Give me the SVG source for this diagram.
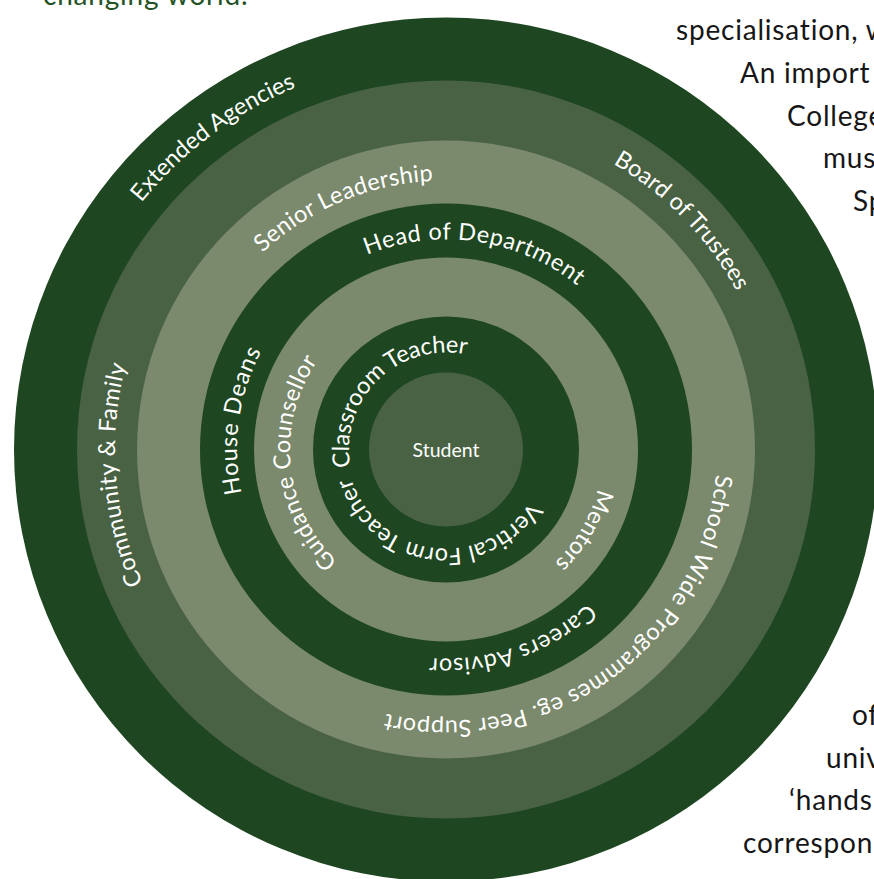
<svg xmlns="http://www.w3.org/2000/svg" width="874" height="879" viewBox="0 0 874 879">
<style>
.dark{fill:#1e4621}
.mid{fill:#4a6244}
.light{fill:#7b896d}
.lbl{font-family:Lato,"Open Sans","DejaVu Sans",sans-serif;font-size:23.5px;fill:#ffffff}
.para{font-family:Lato,"Open Sans","DejaVu Sans",sans-serif;font-size:28px;fill:#161616;letter-spacing:0.8px}
</style>
<defs>
<path id="pExt" d="M141.36 202.81 A392 392 0 0 1 466.52 58.04"/>
<path id="pSen" d="M262.54 252.77 A269 269 0 0 1 551.11 201.89"/>
<path id="pHead" d="M366.99 254.93 A210 210 0 0 1 634.75 357.44"/>
<path id="pClass" d="M350.56 466.84 A97 97 0 0 1 504.78 372.34"/>
<path id="pBoard" d="M613.00 163.71 A331 331 0 0 1 777 449.5"/>
<path id="pSchool" d="M715.84 474.53 A271 271 0 0 1 299.20 677.29"/>
<path id="pMent" d="M598.00 488.81 A157 157 0 0 1 499.70 597.03"/>
<path id="pVert" d="M530.14 501.67 A99 99 0 0 1 347.16 443.80"/>
<path id="pCar" d="M587.74 603.10 A209 209 0 0 1 341.5 630.5"/>
<path id="pHouse" d="M241.64 493.31 A209 209 0 0 1 311.66 289.40"/>
<path id="pGuid" d="M337.63 561.72 A156 156 0 0 1 368 314.40"/>
<path id="pComm" d="M143.15 583.08 A331 331 0 0 1 174.86 259.65"/>
</defs>
<rect width="874" height="879" fill="#ffffff"/>
<g id="rings">
<circle class="dark" cx="446" cy="449.5" r="432"/>
<circle class="mid" cx="446" cy="449.5" r="369"/>
<circle class="light" cx="446" cy="449.5" r="309"/>
<circle class="dark" cx="446" cy="449.5" r="246"/>
<circle class="light" cx="446" cy="449.5" r="192"/>
<circle class="dark" cx="446" cy="449.5" r="133"/>
</g>
<g id="student">
<circle class="mid" cx="446" cy="449.5" r="77"/>
<text x="446" y="456.5" text-anchor="middle" font-family="Lato,'Open Sans',sans-serif" font-size="19" fill="#ffffff" textLength="67" lengthAdjust="spacingAndGlyphs">Student</text>
</g>
<g id="extended-agencies"><text class="lbl"><textPath href="#pExt" textLength="195" lengthAdjust="spacing">Extended Agencies</textPath></text></g>
<g id="senior-leadership"><text class="lbl"><textPath href="#pSen" textLength="189" lengthAdjust="spacing">Senior Leadership</textPath></text></g>
<g id="head-of-department"><text class="lbl"><textPath href="#pHead" textLength="223" lengthAdjust="spacing">Head of Department</textPath></text></g>
<g id="classroom-teacher"><text class="lbl"><textPath href="#pClass" textLength="190" lengthAdjust="spacing">Classroom Teacher</textPath></text></g>
<g id="board-of-trustees"><text class="lbl"><textPath href="#pBoard" textLength="180" lengthAdjust="spacing">Board of Trustees</textPath></text></g>
<g id="school-wide"><text class="lbl"><textPath href="#pSchool" textLength="461" lengthAdjust="spacing">School Wide Programmes eg. Peer Support</textPath></text></g>
<g id="mentors"><text class="lbl"><textPath href="#pMent" textLength="87" lengthAdjust="spacing">Mentors</textPath></text></g>
<g id="vertical-form-teacher"><text class="lbl"><textPath href="#pVert" textLength="227" lengthAdjust="spacing">Vertical Form Teacher</textPath></text></g>
<g id="careers-advisor"><text class="lbl"><textPath href="#pCar" textLength="172" lengthAdjust="spacing">Careers Advisor</textPath></text></g>
<g id="house-deans"><text class="lbl"><textPath href="#pHouse" textLength="146" lengthAdjust="spacing">House Deans</textPath></text></g>
<g id="guidance-counsellor"><text class="lbl"><textPath href="#pGuid" textLength="219" lengthAdjust="spacing">Guidance Counsellor</textPath></text></g>
<g id="community-family"><text class="lbl"><textPath href="#pComm" textLength="223" lengthAdjust="spacing">Community &amp; Family</textPath></text></g>
<g id="page-text">
<text class="para" x="43" y="5" style="fill:#245224">changing world.</text>
<text class="para" x="676" y="40">specialisation, w</text>
<text class="para" x="740" y="83">An import</text>
<text class="para" x="787" y="126">College</text>
<text class="para" x="823" y="168">mus</text>
<text class="para" x="853" y="211">Sp</text>
<text class="para" x="852" y="725">of</text>
<text class="para" x="826" y="768">univ</text>
<text class="para" x="789" y="810">‘hands</text>
<text class="para" x="743" y="853">correspon</text>
</g>
</svg>
